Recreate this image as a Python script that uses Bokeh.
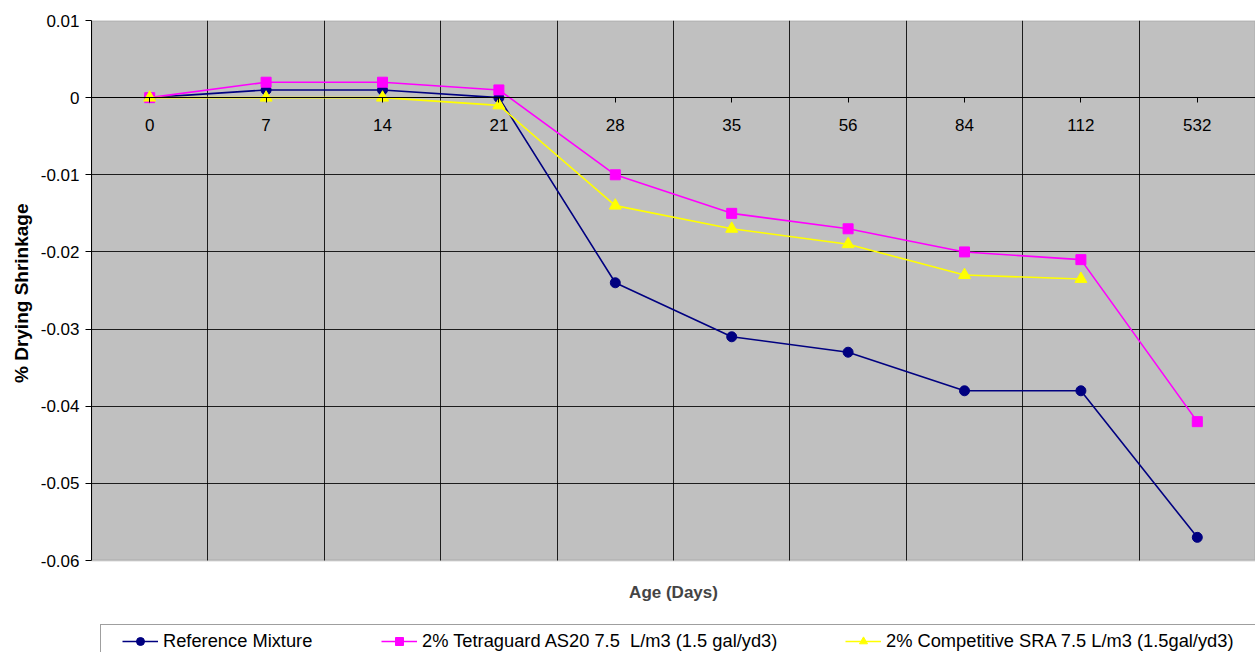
from bokeh.plotting import figure
from bokeh.models import (FactorRange, Range1d, FixedTicker, Legend, LegendItem,
                          CustomJSTickFormatter, Label, BoxAnnotation, Title)
from bokeh.embed import file_html
from bokeh.resources import INLINE

ages = ["0", "7", "14", "21", "28", "35", "56", "84", "112", "532"]
reference = [0.0, 0.001, 0.001, 0.0, -0.024, -0.031, -0.033, -0.038, -0.038, -0.057]
tetraguard = [0.0, 0.002, 0.002, 0.001, -0.010, -0.015, -0.017, -0.020, -0.021, -0.042]
competitive_ages = ["0", "7", "14", "21", "28", "35", "56", "84", "112"]
competitive = [0.0, 0.0, 0.0, -0.001, -0.014, -0.017, -0.019, -0.023, -0.0235]
y_ticks = [0.01, 0.0, -0.01, -0.02, -0.03, -0.04, -0.05, -0.06]

names = ["Reference Mixture",
         "2% Tetraguard AS20 7.5  L/m3 (1.5 gal/yd3)",
         "2% Competitive SRA 7.5 L/m3 (1.5gal/yd3)"]

FONT = "Liberation Sans"
Y_TOP, Y_BOT = 0.01, -0.06
H, TOP, PLOT_H = 652, 20, 540
y_min = Y_BOT - (Y_TOP - Y_BOT) * (H - TOP - PLOT_H) / PLOT_H

p = figure(width=1255, height=H, x_range=FactorRange(*ages),
           y_range=Range1d(y_min, Y_TOP), output_backend="svg",
           toolbar_location=None, min_border_left=91, min_border_top=TOP,
           min_border_right=0, min_border_bottom=0)
p.background_fill_color = "white"
p.border_fill_color = "white"
p.outline_line_color = None

area = BoxAnnotation(top=Y_TOP, bottom=Y_BOT, fill_color="#C0C0C0", fill_alpha=1,
                     line_color="#808080", line_width=2, level="image")
p.add_layout(area)

# y axis
p.yaxis.ticker = FixedTicker(ticks=y_ticks)
p.yaxis.bounds = (Y_BOT, Y_TOP)
p.yaxis.formatter = CustomJSTickFormatter(code="return tick == 0 ? '0' : tick.toFixed(2)")
p.yaxis.major_label_text_font = FONT
p.yaxis.major_label_text_font_size = "17px"
p.yaxis.major_label_text_color = "black"
p.yaxis.major_tick_out = 6
p.yaxis.major_tick_in = 0
p.yaxis.minor_tick_line_color = None
p.yaxis.axis_line_color = "black"
p.yaxis.major_label_standoff = 6

ytitle = Title(text="% Drying Shrinkage", align="right", offset=183,
               text_font=FONT, text_font_size="19px", text_font_style="bold",
               text_color="black", standoff=11)
p.add_layout(ytitle, "left")

# x axis at y = 0
p.xaxis.fixed_location = 0
p.xaxis.major_label_text_font = FONT
p.xaxis.major_label_text_font_size = "17px"
p.xaxis.major_label_text_color = "black"
p.xaxis.major_tick_out = 5
p.xaxis.major_tick_in = 0
p.xaxis.major_label_standoff = 16
p.xaxis.axis_line_color = "black"

# grids
p.ygrid.ticker = FixedTicker(ticks=y_ticks[1:-1])
p.ygrid.grid_line_color = "black"
p.ygrid.grid_line_alpha = 0.85
p.xgrid.ticker = FixedTicker(ticks=list(range(1, len(ages))))
p.xgrid.cross_bounds = (Y_BOT, Y_TOP)
p.xgrid.grid_line_color = "black"
p.xgrid.grid_line_alpha = 0.85

lab = Label(x=len(ages) / 2, y=Y_BOT - 0.00415, text="Age (Days)", text_font=FONT,
            text_font_size="17px", text_font_style="bold", text_align="center",
            text_baseline="middle")
p.add_layout(lab)

l1 = p.line(ages, reference, line_color="#000080", line_width=1.6)
m1 = p.scatter(ages, reference, marker="circle", size=10, fill_color="#000080",
               line_color="#000080")
l2 = p.line(ages, tetraguard, line_color="#FF00FF", line_width=1.6)
m2 = p.scatter(ages, tetraguard, marker="square", size=10, fill_color="#FF00FF",
               line_color="#FF00FF")
l3 = p.line(competitive_ages, competitive, line_color="#FFFF00", line_width=1.6)
m3 = p.scatter(competitive_ages, competitive, marker="triangle", size=12,
               fill_color="#FFFF00", line_color="#FFFF00")

dummy = p.line(x=[], y=[], line_alpha=0)

def mk_legend(items, x, border, label_width=20):
    lg = Legend(items=items, location=(x, -6), orientation="horizontal",
                padding=6, margin=0, glyph_width=36, glyph_height=20,
                label_height=20, label_standoff=5, label_width=label_width,
                label_text_font=FONT, label_text_font_size="18.3px",
                label_text_color="black", spacing=0)
    if border:
        lg.border_line_color = "#404040"
        lg.border_line_width = 1.5
        lg.background_fill_color = "white"
        lg.background_fill_alpha = 1
    else:
        lg.border_line_alpha = 0
        lg.background_fill_alpha = 0
    return lg

box = mk_legend([LegendItem(label=" ", renderers=[dummy])], 9, True, label_width=1300)
lg1 = mk_legend([LegendItem(label=names[0], renderers=[l1, m1])], 25, False)
lg2 = mk_legend([LegendItem(label=names[1], renderers=[l2, m2])], 284, False)
lg3 = mk_legend([LegendItem(label=names[2], renderers=[l3, m3])], 748, False)
for lg in (box, lg1, lg2, lg3):
    p.add_layout(lg, "center")

open("out.html", "w").write(file_html(p, INLINE))
